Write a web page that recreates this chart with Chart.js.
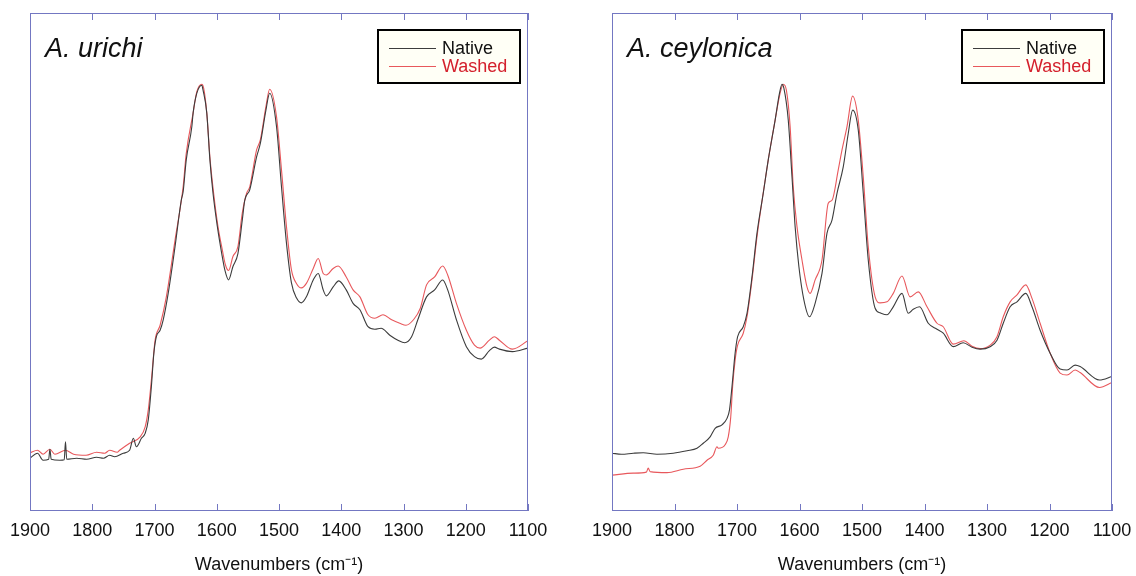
<!DOCTYPE html>
<html>
<head>
<meta charset="utf-8">
<script src="https://cdn.jsdelivr.net/npm/chart.js@4.4.1/dist/chart.umd.min.js"></script>
<style>
  html, body { margin: 0; padding: 0; background: #fff; }
  .panel { position: absolute; top: 0; width: 568px; height: 576px; }
  #left { left: 0; }
  #right { left: 568px; }
</style>
</head>
<body>
<div class="panel" id="left"><canvas id="chartUrichi"></canvas></div>
<div class="panel" id="right"><canvas id="chartCeylonica"></canvas></div>
<script>
// x axis tick labels (wavenumbers, cm-1)
const wnTicks = [1900, 1800, 1700, 1600, 1500, 1400, 1300, 1200, 1100]

// [wavenumber, absorbance (a.u.)]
const urichiNative = [
  [1900,10.6],[1888,11.6],[1879,10.2],[1870,10.4],[1868,12.4],[1866,10.4],[1852,10.2],[1845,10.3],[1843,13.9],[1841,10.4],
  [1825,10.6],[1809,10.4],[1793,10.8],[1782,10.6],[1772,11.2],[1764,10.9],[1750,11.6],[1740,12.2],[1734,14.6],[1729,12.9],
  [1721,14.6],[1715,15.6],[1710,18.3],[1705,25.0],[1701,31.7],[1697,35.0],[1691,36.3],[1686,38.4],[1678,43.7],[1667,53.1],
  [1657,62.4],[1654,64.1],[1649,70.5],[1640,77.2],[1638,79.9],[1632,83.9],[1624,85.5],[1622,84.5],[1616,79.9],[1611,70.5],
  [1606,63.8],[1599,57.1],[1592,51.7],[1587,48.4],[1581,46.4],[1574,49.1],[1566,51.7],[1559,58.4],[1555,62.4],[1547,64.5],
  [1536,71.1],[1530,73.8],[1521,80.5],[1515,83.9],[1504,77.2],[1496,65.1],[1488,53.8],[1480,45.8],[1472,42.8],[1464,41.8],
  [1456,43.0],[1445,46.4],[1437,47.7],[1429,44.4],[1424,43.2],[1413,45.0],[1404,46.2],[1392,44.4],[1381,41.7],[1370,40.4],
  [1357,37.0],[1346,36.5],[1336,36.7],[1322,35.3],[1309,34.3],[1298,33.8],[1287,35.0],[1277,38.4],[1263,43.0],[1250,44.4],
  [1237,46.4],[1229,44.4],[1215,38.4],[1199,33.0],[1186,31.0],[1175,30.5],[1162,32.2],[1154,32.9],[1146,32.5],[1125,32.0],
  [1100,32.7]
]
const urichiWashed = [
  [1900,11.7],[1888,12.2],[1879,11.4],[1868,12.4],[1860,11.4],[1843,12.2],[1830,11.4],[1810,11.2],[1793,11.8],[1780,11.6],
  [1772,12.2],[1760,11.8],[1756,12.2],[1740,13.6],[1723,14.9],[1715,16.9],[1710,20.3],[1705,26.3],[1699,34.3],[1691,37.3],
  [1681,43.0],[1667,54.4],[1654,65.1],[1649,71.8],[1638,79.9],[1632,84.2],[1624,85.7],[1621,84.9],[1616,79.9],[1611,71.1],
  [1605,63.8],[1598,57.1],[1591,52.4],[1586,49.4],[1581,48.3],[1574,51.1],[1566,53.1],[1559,59.8],[1552,63.8],[1547,65.1],
  [1536,72.5],[1530,74.5],[1521,81.2],[1515,84.7],[1504,79.2],[1496,68.5],[1488,57.1],[1480,48.4],[1472,45.7],[1464,44.8],
  [1456,45.7],[1445,48.7],[1437,50.7],[1429,47.7],[1424,47.4],[1413,48.7],[1405,49.2],[1392,47.0],[1381,44.4],[1370,43.0],
  [1357,39.4],[1346,38.7],[1333,39.4],[1319,38.4],[1306,37.7],[1296,37.3],[1284,38.4],[1273,40.7],[1263,45.4],[1250,47.0],
  [1237,49.2],[1229,47.4],[1215,41.7],[1199,36.3],[1186,33.3],[1177,32.7],[1162,34.3],[1154,35.0],[1146,34.3],[1125,32.5],
  [1100,34.2]
]
const ceylonicaNative = [
  [1900,11.6],[1885,11.4],[1866,11.6],[1850,11.7],[1828,11.4],[1802,11.6],[1780,12.1],[1764,12.6],[1754,13.6],[1743,14.9],
  [1735,16.6],[1724,17.3],[1716,18.6],[1712,20.3],[1708,25.0],[1703,31.7],[1699,35.0],[1690,37.0],[1684,39.7],[1676,47.0],
  [1668,55.8],[1658,63.8],[1650,70.5],[1639,78.5],[1632,83.9],[1628,85.7],[1625,84.9],[1618,78.5],[1612,67.1],[1607,57.1],
  [1601,49.1],[1593,42.4],[1584,39.0],[1575,41.7],[1564,47.7],[1556,55.8],[1548,58.4],[1540,63.8],[1530,69.1],[1522,75.8],
  [1515,80.5],[1506,76.5],[1498,63.8],[1490,50.4],[1479,40.7],[1471,39.8],[1460,39.4],[1450,41.0],[1436,43.7],[1426,39.7],
  [1418,40.5],[1408,41.0],[1394,37.7],[1380,36.5],[1370,35.7],[1354,33.0],[1338,33.8],[1324,32.9],[1311,32.5],[1295,33.0],
  [1284,34.3],[1274,37.7],[1263,41.0],[1252,42.0],[1238,43.7],[1228,41.0],[1215,36.3],[1199,31.7],[1183,28.5],[1172,28.3],
  [1159,29.3],[1151,29.0],[1120,26.3],[1100,27.0]
]
const ceylonicaWashed = [
  [1900,7.2],[1866,7.6],[1845,7.8],[1842,8.6],[1839,7.9],[1812,7.7],[1786,8.4],[1759,9.0],[1748,10.2],[1738,11.2],
  [1732,12.9],[1730,12.6],[1719,13.3],[1714,14.9],[1710,18.9],[1707,25.0],[1703,30.3],[1699,33.3],[1690,35.7],[1684,39.0],
  [1676,46.4],[1668,55.1],[1659,63.1],[1650,70.5],[1639,78.5],[1631,83.9],[1626,85.7],[1621,84.5],[1615,77.2],[1610,65.1],
  [1604,57.1],[1596,50.4],[1588,45.0],[1583,43.7],[1575,46.4],[1564,50.4],[1554,61.8],[1548,62.4],[1538,68.5],[1532,72.5],
  [1524,77.2],[1515,83.3],[1506,78.5],[1498,67.1],[1490,53.1],[1479,43.0],[1471,41.8],[1460,42.0],[1450,43.7],[1436,47.2],
  [1423,43.0],[1410,44.0],[1396,41.0],[1380,37.7],[1370,37.0],[1354,33.5],[1337,34.2],[1324,33.1],[1311,32.6],[1295,33.3],
  [1284,35.0],[1274,39.0],[1263,42.0],[1252,43.4],[1238,45.4],[1228,42.7],[1215,37.7],[1199,31.7],[1183,27.7],[1172,27.3],
  [1159,28.3],[1151,27.8],[1120,24.8],[1100,25.8]
]

const FONT = "'Liberation Sans', Arial, Helvetica, sans-serif"
const FRAME = '#7377c2'

// frame with inward ticks, italic species name and boxed legend
const spectrumFrame = {
  id: 'spectrumFrame',
  afterDraw(chart, args, opts) {
    const {ctx, chartArea: a, scales} = chart
    ctx.save()
    ctx.strokeStyle = FRAME
    ctx.lineWidth = 1
    ctx.strokeRect(Math.round(a.left) + 0.5, Math.round(a.top) + 0.5,
      Math.round(a.right - a.left) - 1, Math.round(a.bottom - a.top) - 1)
    ctx.beginPath()
    wnTicks.forEach(t => {
      const x = Math.round(scales.x.getPixelForValue(t)) + 0.5
      ctx.moveTo(x, a.top); ctx.lineTo(x, a.top + 7)
      ctx.moveTo(x, a.bottom); ctx.lineTo(x, a.bottom - 7)
    })
    ctx.stroke()

    ctx.fillStyle = '#111'
    ctx.font = 'italic 27px ' + FONT
    ctx.textBaseline = 'alphabetic'
    ctx.textAlign = 'left'
    ctx.fillText(opts.name, a.left + 15, a.top + 44)

    const bw = 142, bh = 53
    const bx = a.right - 8 - bw, by = a.top + 17
    ctx.fillStyle = '#fffff6'
    ctx.fillRect(bx, by, bw, bh)
    ctx.strokeStyle = '#000'
    ctx.lineWidth = 2
    ctx.strokeRect(bx, by, bw, bh)
    ctx.font = '18px ' + FONT
    ctx.textBaseline = 'middle'
    chart.data.datasets.forEach((ds, i) => {
      const y = by + 18 + i * 18
      ctx.strokeStyle = ds.borderColor
      ctx.lineWidth = 1
      ctx.beginPath()
      ctx.moveTo(bx + 11, y + 0.5); ctx.lineTo(bx + 58, y + 0.5)
      ctx.stroke()
      ctx.fillStyle = opts.textColors[i]
      ctx.fillText(ds.label, bx + 64, y + 1)
    })
    ctx.restore()
  }
}

function toPoints(pairs) {
  return pairs.map(p => ({x: p[0], y: p[1]}))
}

function makeChart(el, name, native, washed, padLeft, padRight) {
  return new Chart(el, {
    type: 'line',
    data: {
      datasets: [
        {label: 'Native', data: toPoints(native), borderColor: '#3c3c3c', borderWidth: 1.1,
         pointRadius: 0, cubicInterpolationMode: 'monotone'},
        {label: 'Washed', data: toPoints(washed), borderColor: '#e8585c', borderWidth: 1.1,
         pointRadius: 0, cubicInterpolationMode: 'monotone'}
      ]
    },
    options: {
      responsive: true,
      maintainAspectRatio: false,
      animation: false,
      devicePixelRatio: 1,
      layout: {padding: {left: padLeft, right: padRight, top: 13, bottom: 0}},
      plugins: {
        legend: {display: false},
        tooltip: {enabled: false},
        spectrumFrame: {name: name, textColors: ['#111', '#d4202c']}
      },
      scales: {
        x: {
          type: 'linear',
          reverse: true,
          min: 1100,
          max: 1900,
          grid: {display: false},
          border: {display: false},
          afterBuildTicks: s => { s.ticks = wnTicks.map(v => ({value: v})) },
          afterFit: s => { s.height = 65 },
          ticks: {autoSkip: false, maxRotation: 0, padding: 1, color: '#111',
                  font: {family: FONT, size: 18}, callback: v => String(v)},
          title: {display: true, text: 'Wavenumbers (cm⁻¹)', color: '#111',
                  font: {family: FONT, size: 18}, padding: {top: 0, bottom: 0}}
        },
        y: {display: false, min: 0, max: 100}
      }
    },
    plugins: [spectrumFrame]
  })
}

makeChart(document.getElementById('chartUrichi'), 'A. urichi', urichiNative, urichiWashed, 30, 40)
makeChart(document.getElementById('chartCeylonica'), 'A. ceylonica', ceylonicaNative, ceylonicaWashed, 44, 24)
</script>
</body>
</html>
